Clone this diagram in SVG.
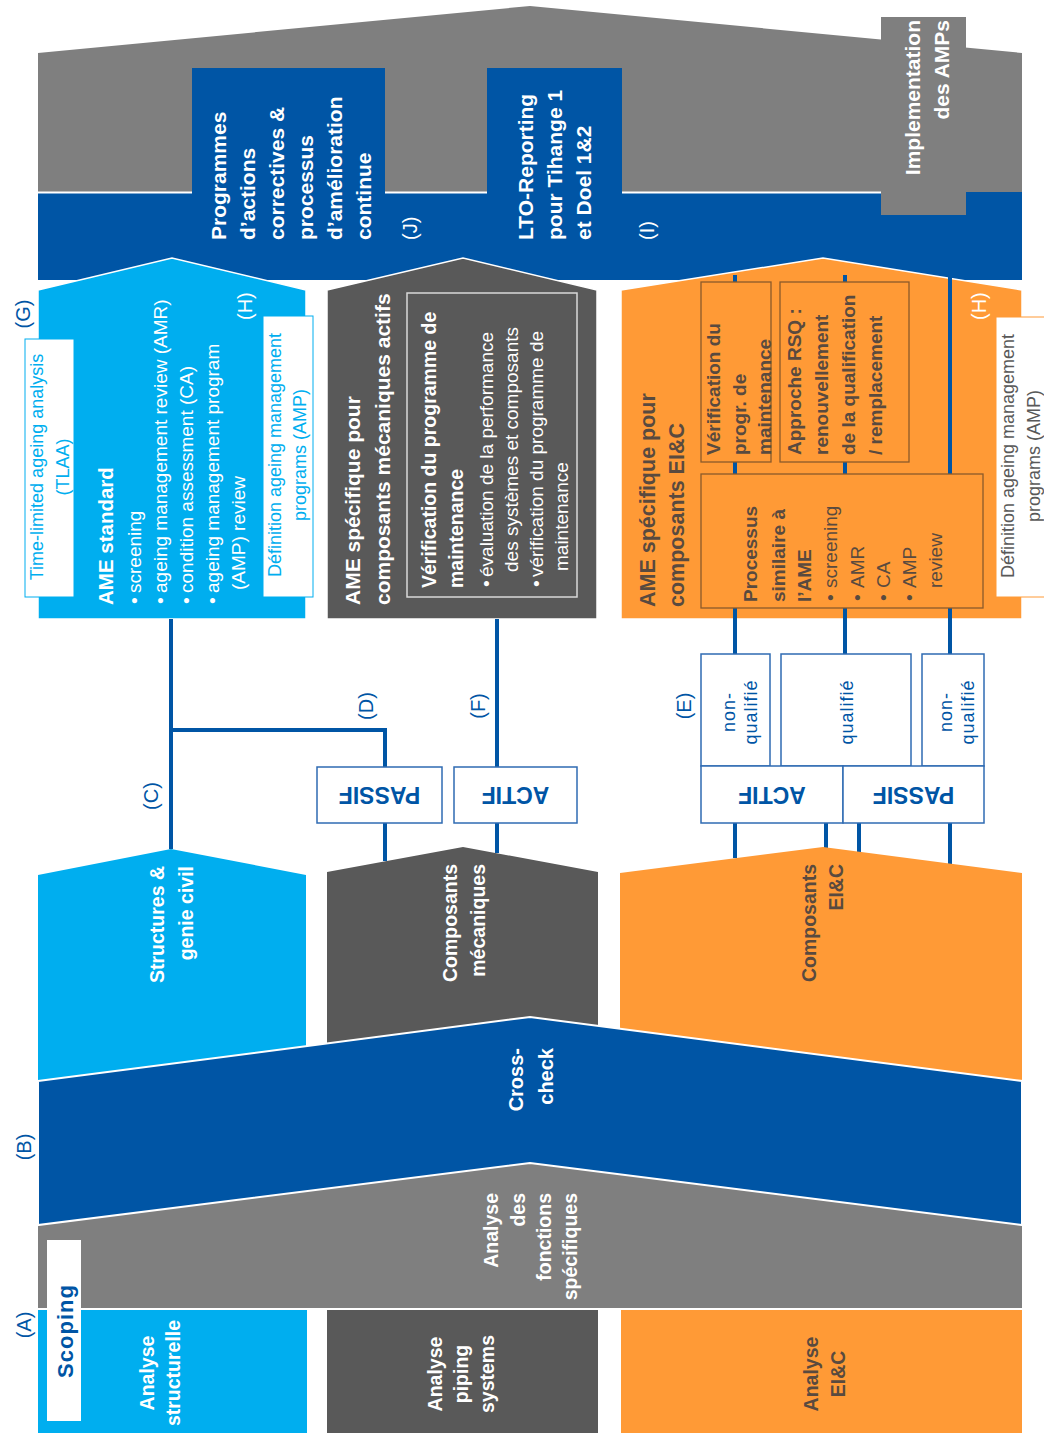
<svg xmlns="http://www.w3.org/2000/svg" width="1044" height="1433" viewBox="0 0 1044 1433">
<style>
text{font-family:"Liberation Sans",Arial,sans-serif}
.wb{font-weight:bold;font-size:20px;fill:#fff}
.wb21{font-weight:bold;font-size:21px;fill:#fff}
.wr{font-size:19px;fill:#fff}
.db{font-weight:bold;font-size:20px;fill:#594A3F}
.db19{font-weight:bold;font-size:19px;fill:#594A3F}
.dr{font-size:19px;fill:#594A3F}
.lbl{font-size:20px;fill:#0055A5}
.wl{font-size:20px;fill:#fff}
.lb{font-size:18px;fill:#00AEEF}
.q{font-size:18px;fill:#0055A5;letter-spacing:1px}
.pa{font-weight:bold;font-size:23px;fill:#0055A5}
.ln{stroke:#0055A5;stroke-width:4;fill:none}
.bx{fill:#fff;stroke:#2F6BB3;stroke-width:1.5}
.ob{fill:#FF9A36;stroke:#8B5A2B;stroke-width:1.3}
.m{text-anchor:middle}
.e{text-anchor:end}
</style>

<g id="implementation-band">
<polygon points="38,53 530,6 1022,53 1022,192 38,192" fill="#7F7F7F"/>
<rect x="38" y="192" width="984" height="88" fill="#0055A5"/>
<path d="M38,192.5H192M385,192.5H487M622,192.5H881" stroke="#fff" stroke-width="2"/>
</g>

<g id="node-J">
<rect x="192" y="68" width="193" height="125" fill="#0055A5"/>
<text class="wb21" transform="rotate(-90)"><tspan x="-240" y="226">Programmes</tspan><tspan x="-240" y="255">d’actions</tspan><tspan x="-240" y="284">correctives &amp;</tspan><tspan x="-240" y="313">processus</tspan><tspan x="-240" y="342">d’amélioration</tspan><tspan x="-240" y="371">continue</tspan></text>
<text class="wl" transform="rotate(-90)" x="-240" y="417">(J)</text>
</g>

<g id="node-I">
<rect x="487" y="68" width="135" height="125" fill="#0055A5"/>
<text class="wb21" transform="rotate(-90)"><tspan x="-240" y="533">LTO-Reporting</tspan><tspan x="-240" y="562">pour Tihange 1</tspan><tspan x="-240" y="591">et Doel 1&amp;2</tspan></text>
<text class="wl" transform="rotate(-90)" x="-240" y="654">(I)</text>
</g>

<g id="node-impl">
<rect x="881" y="17" width="85" height="198" fill="#7F7F7F"/>
<text class="wb21 e" transform="rotate(-90)"><tspan x="-20" y="920">Implementation</tspan><tspan x="-20" y="949">des AMPs</tspan></text>
</g>

<g id="node-ame-standard">
<polygon points="38,290 172,258 306,290 306,619 38,619" fill="#00AEEF" stroke="#fff" stroke-width="1.5"/>
<text class="wb" style="font-size:20.5px" transform="rotate(-90)" x="-605" y="113">AME standard</text>
<g class="wr" transform="rotate(-90)">
<text x="-604" y="141">•</text><text x="-593" y="141">screening</text>
<text x="-604" y="167">•</text><text x="-593" y="167">ageing management review (AMR)</text>
<text x="-604" y="193">•</text><text x="-593" y="193">condition assessment (CA)</text>
<text x="-604" y="219">•</text><text x="-593" y="219">ageing management program</text>
<text x="-590" y="245">(AMP) review</text>
</g>
<text class="wl" transform="rotate(-90)" x="-320" y="252">(H)</text>
</g>

<g id="node-tlaa">
<rect x="25" y="339" width="49" height="258" fill="#fff" stroke="#00AEEF" stroke-width="1"/>
<text class="lb m" transform="rotate(-90)"><tspan x="-467" y="43">Time-limited ageing analysis</tspan><tspan x="-467" y="69">(TLAA)</tspan></text>
</g>

<g id="node-def-amp-1">
<rect x="263" y="316" width="50" height="281" fill="#fff" stroke="#00AEEF" stroke-width="1"/>
<text class="lb m" transform="rotate(-90)"><tspan x="-455" y="281">Définition ageing management</tspan><tspan x="-455" y="306">programs (AMP)</tspan></text>
</g>

<g id="node-ame-meca">
<polygon points="327,290 463,258 597,290 597,619 327,619" fill="#595959" stroke="#fff" stroke-width="1.5"/>
<text class="wb" style="font-size:21px" transform="rotate(-90)"><tspan x="-605" y="360">AME spécifique pour</tspan><tspan x="-605" y="390">composants mécaniques actifs</tspan></text>
<rect x="407" y="293" width="170" height="304" fill="none" stroke="#D9D9D9" stroke-width="1.5"/>
<text class="wb" style="font-size:19.5px" transform="rotate(-90)"><tspan x="-588" y="436">Vérification du programme de</tspan><tspan x="-588" y="463">maintenance</tspan></text>
<g class="wr" transform="rotate(-90)">
<text x="-587" y="493">•</text><text x="-577" y="493">évaluation de la performance</text>
<text x="-572" y="518">des systèmes et composants</text>
<text x="-587" y="543">•</text><text x="-577" y="543">vérification du programme de</text>
<text x="-571" y="568">maintenance</text>
</g>
</g>

<g id="node-ame-eic">
<polygon points="621,290 823,258 1022,290 1022,619 621,619" fill="#FF9A36" stroke="#fff" stroke-width="1.5"/>
<text class="db" style="font-size:21.5px" transform="rotate(-90)"><tspan x="-607" y="655">AME spécifique pour</tspan><tspan x="-607" y="684">composants EI&amp;C</tspan></text>
<text class="wl" transform="rotate(-90)" x="-320" y="986">(H)</text>
</g>

<g id="connectors">
<path class="ln" d="M171,619V849M171,730H385V767M385,823V861M497,619V767M497,823V853"/>
<path class="ln" d="M735,275V654M845,275V654M950,275V654M735,823V858M826,823V848M859,823V852M950,823V864"/>
</g>

<g id="node-verif-eic">
<rect class="ob" x="701" y="282" width="70" height="180"/>
<text class="db19" transform="rotate(-90)"><tspan x="-455" y="720">Vérification du</tspan><tspan x="-455" y="746">progr. de</tspan><tspan x="-455" y="771">maintenance</tspan></text>
</g>

<g id="node-rsq">
<rect class="ob" x="780" y="282" width="129" height="180"/>
<text class="db19" transform="rotate(-90)"><tspan x="-455" y="801">Approche RSQ :</tspan><tspan x="-455" y="828">renouvellement</tspan><tspan x="-455" y="855">de la qualification</tspan><tspan x="-455" y="882">/ remplacement</tspan></text>
</g>

<g id="node-processus">
<rect class="ob" x="701" y="474" width="282" height="134"/>
<text class="db19" transform="rotate(-90)"><tspan x="-602" y="757">Processus</tspan><tspan x="-602" y="785">similaire à</tspan><tspan x="-602" y="811">l’AME</tspan></text>
<g class="dr" transform="rotate(-90)">
<text x="-601" y="837">•</text><text x="-588" y="837">screening</text>
<text x="-601" y="864">•</text><text x="-588" y="864">AMR</text>
<text x="-601" y="890">•</text><text x="-588" y="890">CA</text>
<text x="-601" y="916">•</text><text x="-588" y="916">AMP</text>
<text x="-588" y="942">review</text>
</g>
</g>

<g id="node-def-amp-2">
<rect x="996" y="317" width="54" height="280" fill="#fff" stroke="#FF9A36" stroke-width="1"/>
<text class="m" style="font-size:18px;fill:#595959" transform="rotate(-90)"><tspan x="-456" y="1014">Définition ageing management</tspan><tspan x="-456" y="1040">programs (AMP)</tspan></text>
</g>

<g id="labels-CDFE" class="lbl m" transform="rotate(-90)">
<text x="-796" y="158">(C)</text>
<text x="-706" y="373">(D)</text>
<text x="-706" y="485">(F)</text>
<text x="-706" y="691">(E)</text>
<text x="-314" y="30">(G)</text>
<text x="-1147" y="31">(B)</text>
<text x="-1325" y="31">(A)</text>
</g>

<g id="node-passif-meca">
<rect class="bx" x="317" y="767" width="125" height="56"/>
<text class="pa m" transform="rotate(180)" x="-379.5" y="-795" dy="0.35em">PASSIF</text>
</g>
<g id="node-actif-meca">
<rect class="bx" x="454" y="767" width="123" height="56"/>
<text class="pa m" transform="rotate(180)" x="-515.5" y="-795" dy="0.35em">ACTIF</text>
</g>

<g id="node-nonqual-1">
<rect class="bx" x="701" y="654" width="69" height="112"/>
<text class="q m" transform="rotate(-90)"><tspan x="-712" y="735">non-</tspan><tspan x="-712" y="757">qualifié</tspan></text>
</g>
<g id="node-qual">
<rect class="bx" x="781" y="654" width="130" height="112"/>
<text class="q m" transform="rotate(-90)" x="-712" y="853">qualifié</text>
</g>
<g id="node-nonqual-2">
<rect class="bx" x="922" y="654" width="62" height="112"/>
<text class="q m" transform="rotate(-90)"><tspan x="-712" y="952">non-</tspan><tspan x="-712" y="974">qualifié</tspan></text>
</g>
<g id="node-actif-eic">
<rect class="bx" x="701" y="766" width="142" height="57"/>
<text class="pa m" transform="rotate(180)" x="-772" y="-795" dy="0.35em">ACTIF</text>
</g>
<g id="node-passif-eic">
<rect class="bx" x="843" y="766" width="141" height="57"/>
<text class="pa m" transform="rotate(180)" x="-913.5" y="-795" dy="0.35em">PASSIF</text>
</g>

<g id="node-structures">
<polygon points="38,875 171,849 306,875 306,1100 38,1100" fill="#00AEEF"/>
<text class="wb e" style="font-size:19.5px" transform="rotate(-90)"><tspan x="-866" y="164">Structures &amp;</tspan><tspan x="-866" y="193">genie civil</tspan></text>
</g>
<g id="node-comp-meca">
<polygon points="327,872 463,847 598,872 598,1100 327,1100" fill="#595959"/>
<text class="wb e" style="font-size:19.5px" transform="rotate(-90)"><tspan x="-864" y="457">Composants</tspan><tspan x="-864" y="485">mécaniques</tspan></text>
</g>
<g id="node-comp-eic">
<polygon points="620,873 823,847 1022,873 1022,1100 620,1100" fill="#FF9A36"/>
<text class="db e" style="font-size:19.5px" transform="rotate(-90)"><tspan x="-864" y="816">Composants</tspan><tspan x="-864" y="843">EI&amp;C</tspan></text>
</g>

<g id="node-fonctions">
<polygon points="38,1225 530,1163 1022,1225 1022,1308 38,1308" fill="#7F7F7F"/>
<text class="wb e" style="font-size:19.5px" transform="rotate(-90)"><tspan x="-1193" y="498">Analyse</tspan><tspan x="-1193" y="525">des</tspan><tspan x="-1193" y="551">fonctions</tspan><tspan x="-1193" y="577">spécifiques</tspan></text>
</g>

<g id="node-crosscheck">
<polygon points="38,1081 530,1017 1022,1081 1022,1225 530,1163 38,1225" fill="#0055A5" stroke="#fff" stroke-width="2"/>
<text class="wb e" transform="rotate(-90)"><tspan x="-1048" y="523">Cross-</tspan><tspan x="-1048" y="553">check</tspan></text>
</g>

<g id="node-analyse-struct">
<rect x="38" y="1310" width="269" height="123" fill="#00AEEF"/>
<text class="wb m" style="font-size:19.5px" transform="rotate(-90)"><tspan x="-1373" y="154">Analyse</tspan><tspan x="-1373" y="180">structurelle</tspan></text>
</g>
<g id="node-analyse-piping">
<rect x="327" y="1310" width="271" height="123" fill="#595959"/>
<text class="wb m" style="font-size:19.5px" transform="rotate(-90)"><tspan x="-1374" y="442">Analyse</tspan><tspan x="-1374" y="468">piping</tspan><tspan x="-1374" y="494">systems</tspan></text>
</g>
<g id="node-analyse-eic">
<rect x="621" y="1310" width="401" height="123" fill="#FF9A36"/>
<text class="db m" style="font-size:19.5px" transform="rotate(-90)"><tspan x="-1374" y="818">Analyse</tspan><tspan x="-1374" y="845">EI&amp;C</tspan></text>
</g>

<g id="node-scoping">
<rect x="47" y="1240" width="34" height="181" fill="#fff"/>
<text class="m" style="font-weight:bold;font-size:22px;fill:#0055A5;letter-spacing:1px" transform="rotate(-90)" x="-1331" y="73">Scoping</text>
</g>
</svg>
